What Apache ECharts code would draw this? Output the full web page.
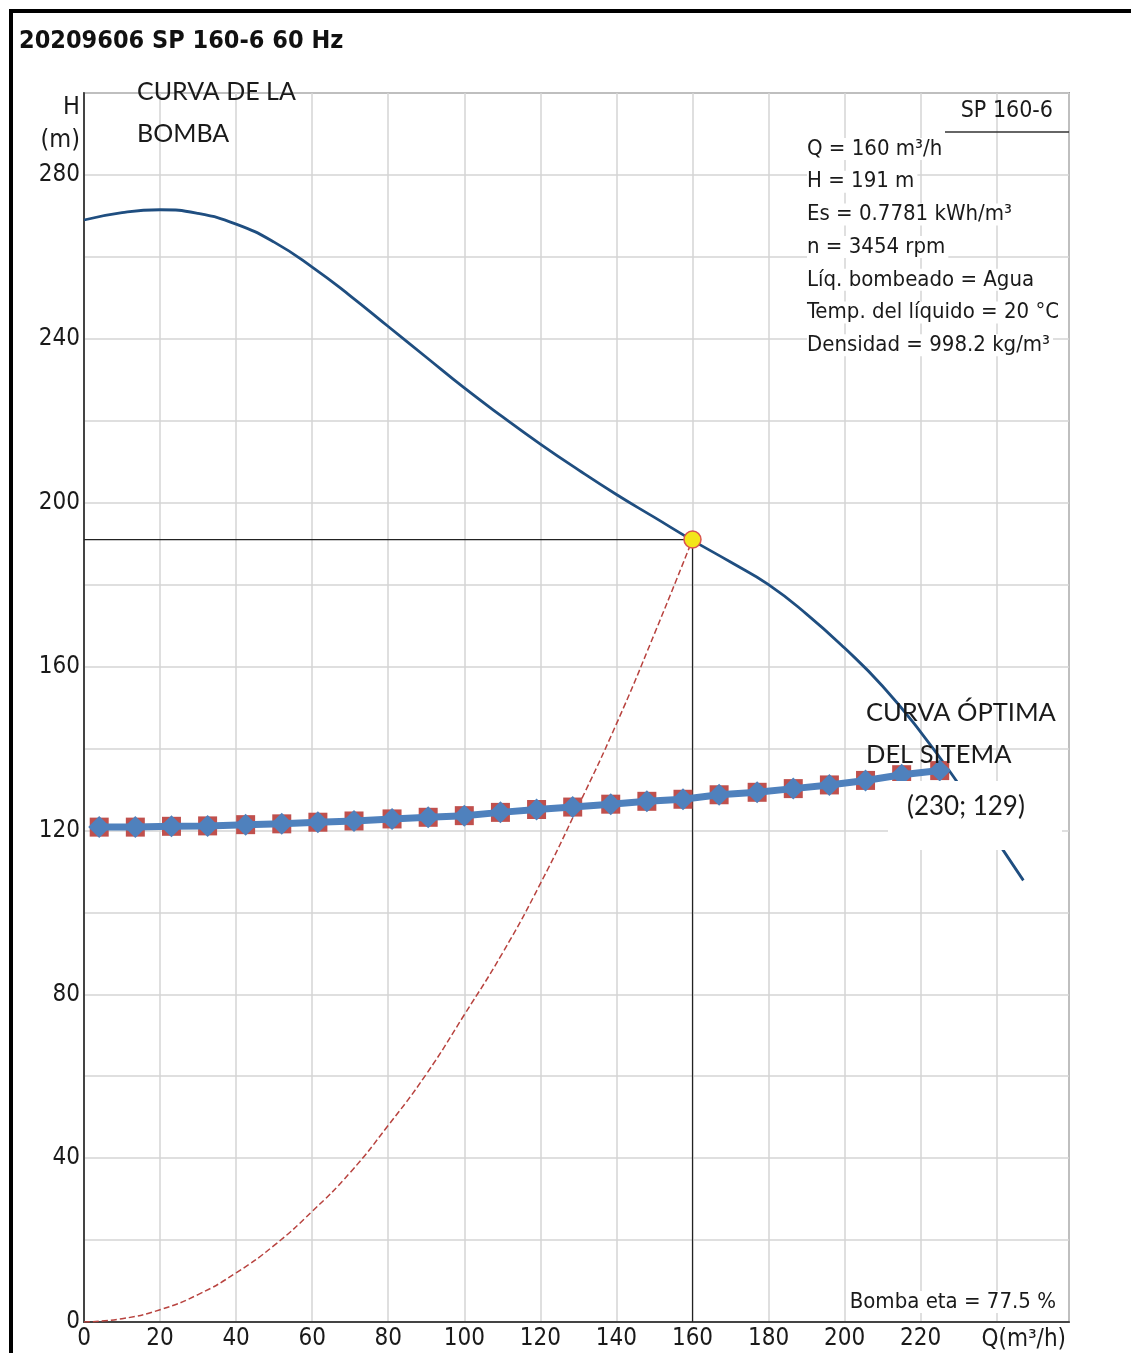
<!DOCTYPE html>
<html>
<head>
<meta charset="utf-8">
<title>SP 160-6 60 Hz</title>
<script src="https://cdn.jsdelivr.net/npm/echarts@6.0.0/dist/echarts.min.js"></script>
<style>
	html, body { margin: 0; padding: 0; background: #fff; }
	#chart { width: 1131px; height: 1353px; }
</style>
</head>
<body>
<div id="chart"></div>
<script>
// curva de la bomba (Q m3/h -> H m)
const pumpQ = [0, 10, 20, 30, 40, 50, 60, 70, 80, 90, 100, 110, 120, 130, 140, 150, 160, 170, 180, 190, 200, 210, 220, 230, 240, 247]
const pumpH = [269, 270.8, 271.5, 270.6, 268, 263.6, 257.5, 250.5, 243, 235.5, 228, 221, 214.3, 208, 202, 196.4, 190.8, 185.5, 180, 172.8, 164.5, 155.2, 144, 131.3, 117.5, 107.8]

// curva del sistema (roja, discontinua)
const systemQ = [0, 10, 20, 30, 40, 50, 60, 70, 80, 90, 100, 110, 120, 130, 140, 150, 160]
const systemH = [0, 0.8, 3, 6.7, 12, 18.7, 27, 36.5, 48, 60.5, 75, 90, 107, 126, 146, 168, 191]

// curva optima del sistema (marcadores)
const optimalQ = [4, 13.5, 23, 32.5, 42.5, 52, 61.5, 71, 81, 90.5, 100, 109.5, 119, 128.5, 138.5, 148, 157.5, 167, 177, 186.5, 196, 205.5, 215, 225]
const optimalH = [120.8, 120.8, 121, 121.1, 121.4, 121.6, 122, 122.3, 122.8, 123.2, 123.6, 124.4, 125.1, 125.7, 126.4, 127.1, 127.6, 128.7, 129.3, 130.2, 131.1, 132.2, 133.6, 134.6]

// punto de trabajo
const dutyQ = 160
const dutyH = 191

const xTickLabels = [0, 20, 40, 60, 80, 100, 120, 140, 160, 180, 200, 220]
const yTickLabels = [0, 40, 80, 120, 160, 200, 240, 280]

const infoLines = [
	'Q = 160 m³/h',
	'H = 191 m',
	'Es = 0.7781 kWh/m³',
	'n = 3454 rpm',
	'Líq. bombeado = Agua',
	'Temp. del líquido = 20 °C',
	'Densidad = 998.2 kg/m³',
]

const narrow = '"Liberation Sans Narrow", "DejaVu Sans Condensed", "Arial Narrow", Arial, sans-serif'
const calibri = 'Lato, "Open Sans", sans-serif'

const chartDom = document.getElementById('chart')
const myChart = echarts.init(chartDom)

const pairs = (xs, ys) => xs.map((x, i) => [x, ys[i]])

const textEl = (text, x, y, font, align, extra) => ({
	type: 'text',
	x: x,
	y: y,
	z: 100,
	style: Object.assign({
		text: text,
		font: font,
		fill: '#1a1a1a',
		textAlign: align || 'left',
		textVerticalAlign: 'middle',
	}, extra || {}),
})

const graphics = [
	{
		type: 'rect',
		z: 100,
		shape: { x: 11, y: 11, width: 1300, height: 1500 },
		style: { fill: 'none', stroke: '#000', lineWidth: 4 },
	},
	textEl('20209606 SP 160-6 60 Hz', 19, 41, 'bold 25px ' + narrow, 'left', { fill: '#111' }),
	textEl('H', 80, 107, '25px ' + narrow, 'right'),
	textEl('(m)', 80, 140, '25px ' + narrow, 'right'),
	textEl('SP 160-6', 1053, 111, '23px ' + narrow, 'right'),
	{
		type: 'line',
		z: 100,
		shape: { x1: 945, y1: 132, x2: 1069, y2: 132 },
		style: { stroke: '#333', lineWidth: 1.5 },
	},
	textEl('Bomba eta = 77.5 %', 1056, 1302, '22px ' + narrow, 'right', { backgroundColor: '#fff' }),
	textEl('Q(m³/h)', 1066, 1340, '24px ' + narrow, 'right'),
	textEl('CURVA DE LA', 137, 92, '25px ' + calibri),
	textEl('BOMBA', 137, 134, '25px ' + calibri),
	{
		type: 'rect',
		z: 99,
		shape: { x: 888, y: 781, width: 174, height: 69 },
		style: { fill: '#fff' },
	},
	textEl('(230; 129)', 907, 807, '26px ' + calibri),
	textEl('CURVA ÓPTIMA', 866, 713, '25.5px ' + calibri),
	textEl('DEL SITEMA', 866, 755, '25.5px ' + calibri),
]

infoLines.forEach((line, i) => {
	graphics.push(textEl(line, 807, 149 + i * 32.7, '22px ' + narrow, 'left', { backgroundColor: '#fff', padding: [0, 3, 0, 0] }))
})

const option = {
	animation: false,
	backgroundColor: '#fff',
	grid: {
		left: 84,
		right: 62,
		top: 93,
		bottom: 31,
		show: true,
		borderColor: '#555',
		borderWidth: 1.5,
		backgroundColor: 'transparent',
		outerBoundsMode: 'none',
	},
	xAxis: {
		type: 'value',
		min: 0,
		max: 259,
		interval: 20,
		axisLine: { show: true, onZero: false, lineStyle: { color: '#444', width: 2 } },
		axisTick: { show: false },
		splitLine: { show: true, lineStyle: { color: '#d4d4d4', width: 1.5 } },
		axisLabel: {
			margin: 5,
			color: '#1a1a1a',
			fontSize: 24,
			fontFamily: narrow,
			formatter: v => (xTickLabels.includes(v) ? String(v) : ''),
		},
	},
	yAxis: {
		type: 'value',
		min: 0,
		max: 300,
		interval: 20,
		axisLine: { show: true, onZero: false, lineStyle: { color: '#444', width: 2 } },
		axisTick: { show: false },
		splitLine: { show: true, lineStyle: { color: '#d4d4d4', width: 1.5 } },
		axisLabel: {
			margin: 4,
			color: '#1a1a1a',
			fontSize: 24,
			fontFamily: narrow,
			formatter: v => (yTickLabels.includes(v) ? String(v) : ''),
		},
	},
	series: [
		{
			name: 'bomba',
			type: 'line',
			data: pairs(pumpQ, pumpH),
			smooth: true,
			showSymbol: false,
			lineStyle: { color: '#1f4e80', width: 2.8 },
			z: 2,
		},
		{
			name: 'sistema',
			type: 'line',
			data: pairs(systemQ, systemH),
			smooth: true,
			showSymbol: false,
			lineStyle: { color: '#b8433f', width: 1.5, type: [6, 3] },
			z: 3,
		},
		{
			name: 'guia',
			type: 'line',
			data: [[0, dutyH], [dutyQ, dutyH], [dutyQ, 0]],
			showSymbol: false,
			lineStyle: { color: '#222', width: 1.2 },
			z: 3,
		},
		{
			name: 'optima-cuadros',
			type: 'scatter',
			data: pairs(optimalQ, optimalH),
			symbol: 'rect',
			symbolSize: 19,
			itemStyle: { color: '#c0504d', opacity: 1 },
			z: 4,
		},
		{
			name: 'optima',
			type: 'line',
			data: pairs(optimalQ, optimalH),
			symbol: 'diamond',
			symbolSize: 22,
			showAllSymbol: true,
			lineStyle: { color: '#4f81bd', width: 7 },
			itemStyle: { color: '#4f81bd' },
			z: 5,
		},
		{
			name: 'punto',
			type: 'scatter',
			data: [[dutyQ, dutyH]],
			symbol: 'circle',
			symbolSize: 17,
			itemStyle: { color: '#f3e61a', borderColor: '#d9534f', borderWidth: 1.5, opacity: 1 },
			z: 6,
		},
	],
	graphic: graphics,
}

myChart.setOption(option)
</script>
</body>
</html>
